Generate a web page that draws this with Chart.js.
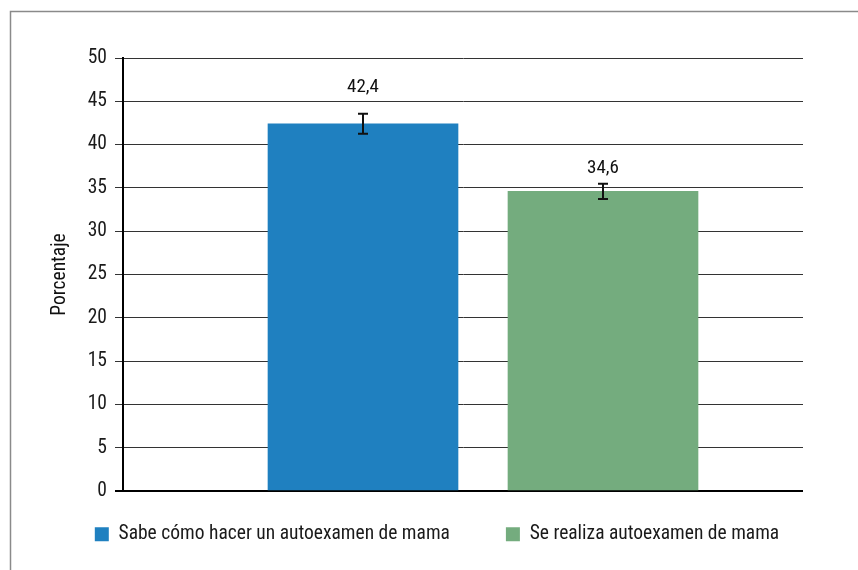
<!DOCTYPE html>
<html><head><meta charset="utf-8">
<script src="https://cdn.jsdelivr.net/npm/chart.js@4.4.1/dist/chart.umd.min.js"></script>
<style>html,body{margin:0;padding:0;background:#fff;}canvas{display:block}</style>
</head><body>
<canvas id="c" width="858" height="570"></canvas>
<script>
// ---- data ----
const categories = ['Sabe cómo hacer un autoexamen de mama', 'Se realiza autoexamen de mama'];
const values = [42.4, 34.6];
const errors = [1.15, 0.88];
const yTicks = [0, 5, 10, 15, 20, 25, 30, 35, 40, 45, 50];
const yTitle = 'Porcentaje';
const colors = ['#1f80c0', '#74ac7e'];

const FONT = "'Roboto Condensed', 'Liberation Sans Narrow', sans-serif";

const framePlugin = {
  id: 'frame',
  beforeDraw(chart) {
    const ctx = chart.ctx;
    ctx.save();
    ctx.fillStyle = '#fff';
    ctx.fillRect(0, 0, chart.width, chart.height);
    ctx.strokeStyle = '#8a8a8a';
    ctx.lineWidth = 1.5;
    ctx.strokeRect(10.5, 11.5, chart.width + 20, chart.height + 20);
    ctx.restore();
  }
};

const legendNudge = {
  id: 'legendNudge',
  afterLayout(chart, args, opts) {
    const lg = chart.legend;
    if (!lg) return;
    lg.top += opts.dy; lg.bottom += opts.dy;
  }
};

const errorBars = {
  id: 'errorBars',
  afterDatasetsDraw(chart, args, opts) {
    const ctx = chart.ctx;
    const y = chart.scales.y;
    chart.data.datasets.forEach((ds, i) => {
      const meta = chart.getDatasetMeta(i);
      meta.data.forEach((bar) => {
        const v = values[i];
        const e = errors[i];
        const x = Math.round(bar.x);
        const yt = y.getPixelForValue(v + e);
        const yb = y.getPixelForValue(v - e);
        ctx.save();
        ctx.strokeStyle = '#111';
        ctx.lineWidth = 2;
        ctx.beginPath();
        ctx.moveTo(x, yt); ctx.lineTo(x, yb);
        ctx.moveTo(x - 5, yt); ctx.lineTo(x + 5, yt);
        ctx.moveTo(x - 5, yb); ctx.lineTo(x + 5, yb);
        ctx.stroke();
        ctx.fillStyle = '#111';
        ctx.font = '19px ' + FONT;
        ctx.textAlign = 'center';
        ctx.textBaseline = 'middle';
        ctx.fillText(v.toFixed(1).replace('.', ','), x, yt - opts.gaps[i]);
        ctx.restore();
      });
    });
  }
};

new Chart(document.getElementById('c'), {
  type: 'bar',
  data: {
    datasets: categories.map((c, i) => ({
      label: c,
      data: [{ x: i + 1, y: values[i] }],
      backgroundColor: colors[i],
      borderWidth: 0,
      grouped: false,
      barThickness: 190
    }))
  },
  plugins: [framePlugin, legendNudge, errorBars],
  options: {
    responsive: false,
    animation: false,
    devicePixelRatio: 1,
    layout: { padding: { left: 10, right: -6, top: 58, bottom: 0 } },
    scales: {
      x: {
        type: 'linear',
        min: 0,
        max: 680 / 240,
        offset: false,
        display: false
      },
      y: {
        min: 0,
        max: 50,
        afterBuildTicks(scale) { scale.ticks = yTicks.map(v => ({ value: v })); },
        afterFit(scale) { scale.width = 113; },
        ticks: {
          padding: 8,
          color: '#1a1a1a',
          font: { family: FONT, size: 19.5 }
        },
        grid: {
          color: ctx => ctx.tick && ctx.tick.value === 0 ? '#000' : '#333',
          lineWidth: ctx => ctx.tick && ctx.tick.value === 0 ? 2 : 1,
          tickLength: 8
        },
        border: { display: true, color: '#000', width: 2 },
        title: {
          display: true,
          text: yTitle,
          color: '#111',
          font: { family: FONT, size: 19.5 },
          padding: { top: 38, bottom: 0 }
        }
      },
      spacer: {
        type: 'linear',
        position: 'right',
        display: true,
        ticks: { display: false },
        grid: { display: false, drawTicks: false },
        border: { display: false },
        afterFit(scale) { scale.width = 61; }
      }
    },
    plugins: {
      legend: {
        position: 'bottom',
        maxHeight: 79,
        labels: {
          boxWidth: 14,
          boxHeight: 14,
          padding: 56,
          color: '#1a1a1a',
          font: { family: FONT, size: 19.5 }
        }
      },
      tooltip: { enabled: false },
      legendNudge: { dy: -22.5 },
      errorBars: { gaps: [27, 15] }
    }
  }
});
</script>
</body></html>
